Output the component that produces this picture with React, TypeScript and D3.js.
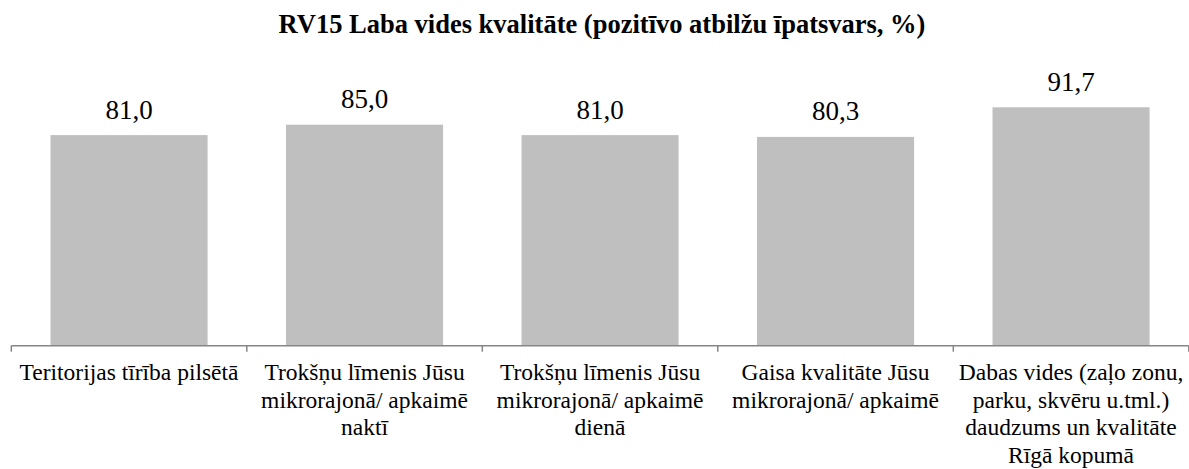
import React from "react";
import * as d3 from "d3";

const title = "RV15 Laba vides kvalitāte (pozitīvo atbilžu īpatsvars, %)";
const categories = [
  "Teritorijas tīrība pilsētā",
  "Trokšņu līmenis Jūsu mikrorajonā/ apkaimē naktī",
  "Trokšņu līmenis Jūsu mikrorajonā/ apkaimē dienā",
  "Gaisa kvalitāte Jūsu mikrorajonā/ apkaimē",
  "Dabas vides (zaļo zonu, parku, skvēru u.tml.) daudzums un kvalitāte Rīgā kopumā",
];
const categoryLines = [
  ["Teritorijas tīrība pilsētā"],
  ["Trokšņu līmenis Jūsu", "mikrorajonā/ apkaimē", "naktī"],
  ["Trokšņu līmenis Jūsu", "mikrorajonā/ apkaimē", "dienā"],
  ["Gaisa kvalitāte Jūsu", "mikrorajonā/ apkaimē"],
  ["Dabas vides (zaļo zonu,", "parku, skvēru u.tml.)", "daudzums un kvalitāte", "Rīgā kopumā"],
];
const values = [81.0, 85.0, 81.0, 80.3, 91.7];

const W = 1189;
const H = 469;
const FONT = "Liberation Serif, Times New Roman, Tinos, DejaVu Serif, serif";

export default function App() {
  const x = d3
    .scaleBand<string>()
    .domain(categories)
    .range([11.3, 1188.8])
    .paddingInner(0.333)
    .paddingOuter(0.1665);
  const y = d3.scaleLinear().domain([0, 100]).range([345.7, 85.7]);
  const fmt = (v: number) => v.toFixed(1).replace(".", ",");
  const step = x.step();
  const x0 = x.range()[0];
  const ticks = d3.range(categories.length + 1).map((i) => x0 + i * step);
  const textStyle = { fontFamily: FONT };

  return (
    <svg
      width={W}
      height={H}
      style={{ position: "absolute", left: 0, top: 0, background: "#fff", fontFamily: FONT }}
    >
      <text
        x={602}
        y={32.5}
        textAnchor="middle"
        fontSize={26.5}
        fontWeight="bold"
        fill="#000"
        style={textStyle}
      >
        {title}
      </text>
      {categories.map((c, i) => (
        <g key={c}>
          <rect
            x={x(c)!}
            y={y(values[i])}
            width={x.bandwidth()}
            height={y(0) - y(values[i])}
            fill="#bfbfbf"
          />
          <text
            x={x(c)! + x.bandwidth() / 2}
            y={y(values[i]) - 16.5}
            textAnchor="middle"
            fontSize={27}
            fill="#000"
            style={textStyle}
          >
            {fmt(values[i])}
          </text>
          {categoryLines[i].map((line, j) => (
            <text
              key={j}
              x={x(c)! + x.bandwidth() / 2}
              y={380 + j * 27.5}
              textAnchor="middle"
              fontSize={23.5}
              fill="#000"
              style={textStyle}
            >
              {line}
            </text>
          ))}
        </g>
      ))}
      <line x1={x0} x2={x.range()[1]} y1={y(0)} y2={y(0)} stroke="#868686" strokeWidth={1.5} />
      {ticks.map((t, i) => (
        <line key={i} x1={t} x2={t} y1={y(0)} y2={y(0) + 6} stroke="#868686" strokeWidth={1.5} />
      ))}
    </svg>
  );
}
